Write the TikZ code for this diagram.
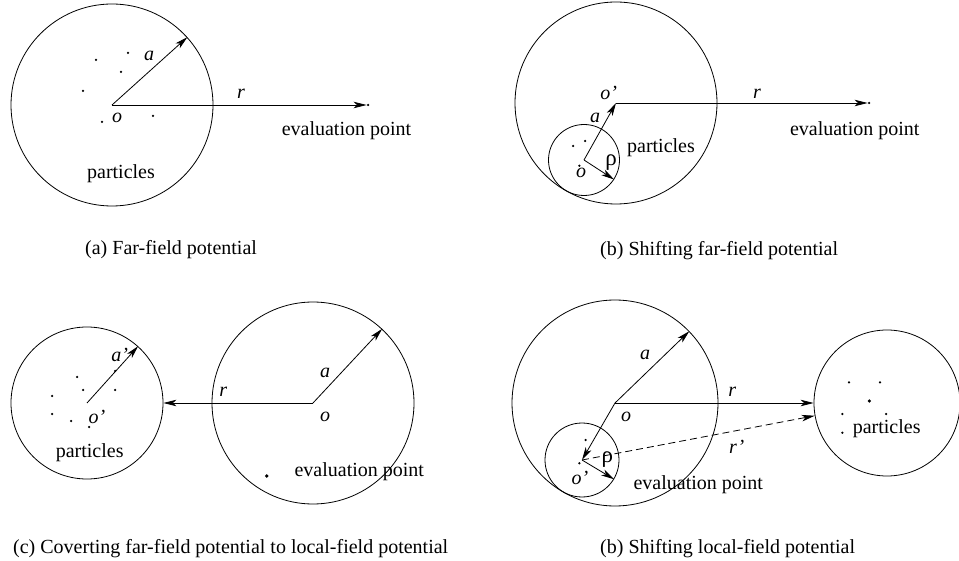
\documentclass[tikz,border=0pt]{standalone}
\usepackage{fontspec}
\setmainfont{Liberation Serif}
\usetikzlibrary{arrows.meta}
\begin{document}
\begin{tikzpicture}[x=1pt,y=-1pt, font=\fontsize{20}{24}\selectfont,
  ring/.style={draw, circle, line width=0.8pt, inner sep=0pt},
  vec/.style={line width=0.8pt, -{Stealth[length=13pt,width=6.5pt,inset=3.5pt]}},
  pt/.style={circle, fill, inner sep=0pt, minimum size=2.5pt},
  bigpt/.style={circle, fill, inner sep=0pt, minimum size=3.6pt},
  lbl/.style={inner sep=0pt},
  rholbl/.style={inner sep=0pt, font=\fontsize{23}{26}\selectfont},
  captxt/.style={anchor=base west, inner sep=0pt}]
\useasboundingbox (0,0) rectangle (959,561);

% ---------- (a) ----------
\node[ring, minimum size=202pt] (A) at (112,105) {};
\node[pt] (ea) at (368,105) {};
\draw[vec] (A.center) -- (A.42);
\draw[vec] (A.center) -- (ea);
\node[lbl] (aa) at (149,56) {\textit{a}};
\node[lbl] (ar) at (241,94) {\textit{r}};
\node[lbl] (ao) at (117,118) {\textit{o}};
\node[lbl] (ap) at (121,174) {particles};
\node[lbl] (ae) at (346.5,131) {evaluation point};
\node[pt] (a1) at (96,60) {};
\node[pt] (a2) at (128,53) {};
\node[pt] (a3) at (121,72) {};
\node[pt] (a4) at (83,91) {};
\node[pt] (a5) at (102,122) {};
\node[pt] (a6) at (153,116) {};
\node[captxt] (capa) at (85,255) {(a) Far-field potential};

% ---------- (b) ----------
\node[ring, minimum size=202pt] (B) at (616,103) {};
\node[ring, minimum size=71pt] (b) at (584,160) {};
\node[pt] (eb) at (869,103) {};
\draw[vec] (b.center) -- (B.center);
\draw[vec] (b.center) -- (b.-33);
\draw[vec] (B.center) -- (eb);
\node[lbl] (bo2) at (608.7,93) {\textit{o’}};
\node[lbl] (ba) at (595,118) {\textit{a}};
\node[lbl] (br) at (757,94) {\textit{r}};
\node[lbl] (be) at (854.7,131) {evaluation point};
\node[lbl] (bp) at (661,148) {particles};
\node[rholbl] (brho) at (611,163) {ρ};
\node[lbl] (bo) at (581,173) {\textit{o}};
\node[pt] (b1) at (573,146) {};
\node[pt] (b2) at (585,141) {};
\node[pt] (b3) at (579.3,165.7) {};
\node[captxt] (capb) at (600,256) {(b) Shifting far-field potential};

% ---------- (c) ----------
\node[ring, minimum size=152pt] (L) at (87,403) {};
\node[ring, minimum size=202pt] (R) at (313,403) {};
\draw[vec] (L.center) -- (L.48);
\draw[vec] (R.center) -- (R.47);
\draw[vec] (R.center) -- (L.east);
\node[lbl] (ca2) at (119.7,355) {\textit{a’}};
\node[lbl] (co2) at (97,417) {\textit{o’}};
\node[lbl] (cp) at (89.7,453) {particles};
\node[lbl] (cr) at (223.3,392) {\textit{r}};
\node[lbl] (ca) at (325,373) {\textit{a}};
\node[lbl] (co) at (325,417) {\textit{o}};
\node[lbl] (ce) at (359.3,472) {evaluation point};
\node[bigpt] (ec) at (266.7,476) {};
\node[pt] (c1) at (77,377) {};
\node[pt] (c2) at (83,390) {};
\node[pt] (c3) at (115,371) {};
\node[pt] (c4) at (115,390) {};
\node[pt] (c5) at (52,396) {};
\node[pt] (c6) at (52,414) {};
\node[pt] (c7) at (71,421) {};
\node[pt] (c8) at (89,427) {};
\node[captxt] (capc) at (13,553) {(c) Coverting far-field potential to local-field potential};

% ---------- (d) ----------
\node[ring, minimum size=206pt] (D) at (615,403) {};
\node[ring, minimum size=74pt] (d) at (582,460) {};
\node[ring, minimum size=146pt] (P) at (887,403) {};
\draw[vec] (D.center) -- (D.44);
\draw[vec] (D.center) -- (P.west);
\draw[vec] (D.center) -- (d.center);
\draw[vec] (d.center) -- (d.-31);
\draw[vec, dash pattern=on 7pt off 4pt] (d.center) -- (P.190);
\node[lbl] (da) at (645,355) {\textit{a}};
\node[lbl] (dr) at (732.3,392) {\textit{r}};
\node[lbl] (do) at (626,417) {\textit{o}};
\node[lbl] (dr2) at (736.7,447) {\textit{r’}};
\node[rholbl] (drho) at (607.3,460) {ρ};
\node[lbl] (do2) at (580,478) {\textit{o’}};
\node[lbl] (de) at (698.3,485) {evaluation point};
\node[lbl] (dp) at (886.7,428.3) {particles};
\node[pt] (d1) at (585.7,440) {};
\node[pt] (d2) at (579.3,463.3) {};
\node[pt] (d3) at (849,382.3) {};
\node[pt] (d4) at (880,382.3) {};
\node[bigpt] (d5) at (869.3,401) {};
\node[pt] (d6) at (842.3,414) {};
\node[pt] (d7) at (886,414) {};
\node[pt] (d8) at (842.3,432.7) {};
\node[captxt] (capd) at (600,553) {(b) Shifting local-field potential};
\end{tikzpicture}
\end{document}
